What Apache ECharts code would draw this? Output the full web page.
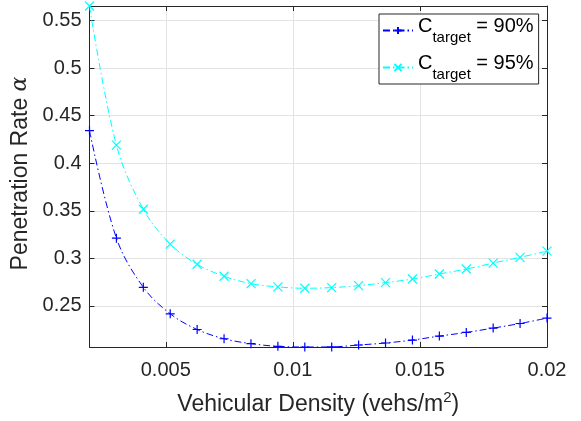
<!DOCTYPE html>
<html><head><meta charset="utf-8">
<script src="https://cdn.jsdelivr.net/npm/echarts@6/dist/echarts.min.js"></script>
<style>html,body{margin:0;padding:0;background:#fff}#c{width:581px;height:421px}</style>
</head><body><div id="c"></div>
<script>
const density = [0.002, 0.003059, 0.004118, 0.005176, 0.006235, 0.007294, 0.008353, 0.009412, 0.010471, 0.011529, 0.012588, 0.013647, 0.014706, 0.015765, 0.016824, 0.017882, 0.018941, 0.02];
const rate90 = [0.4344, 0.3212, 0.2695, 0.2416, 0.2251, 0.2154, 0.2102, 0.2074, 0.2067, 0.2068, 0.2088, 0.2109, 0.2140, 0.2182, 0.2220, 0.2266, 0.2314, 0.2371];
const rate95 = [0.5654, 0.4190, 0.3516, 0.3149, 0.2937, 0.2811, 0.2733, 0.2699, 0.2685, 0.2692, 0.2712, 0.2744, 0.2782, 0.2835, 0.2887, 0.2950, 0.3010, 0.3076];
const xTicks = [0.005, 0.01, 0.015, 0.02];
const yTicks = [0.25, 0.3, 0.35, 0.4, 0.45, 0.5, 0.55];
const seriesNames = ['C90', 'C95'];

const AX = '#262626';
const FONT = 'Liberation Sans, Arial, sans-serif';
const plus = 'path://M0,-1L0,1M-1,0L1,0';
const cross = 'path://M-1,-1L1,1M-1,1L1,-1';
const dashDot = [7, 3, 1.5, 3];

const chart = echarts.init(document.getElementById('c'));
const xMin = 0.002, xMax = 0.02, yMin = 0.2067, yMax = 0.5654;
function mkX(idx, show) {
  return {
    type: 'value', min: xMin, max: xMax, position: idx ? 'top' : 'bottom',
    axisLine: {show: true, lineStyle: {color: AX, width: 1}},
    axisTick: {show: true, inside: true, length: 5, customValues: xTicks, lineStyle: {color: AX}},
    axisLabel: {show: show, customValues: xTicks, color: AX, fontSize: 20, fontFamily: FONT, margin: 13,
      formatter: v => String(+v.toFixed(4))},
    splitLine: {show: !idx, customValues: xTicks, lineStyle: {color: '#e3e3e3', width: 1}},
    name: show ? '{t|Vehicular Density (vehs/m}{s|2}{t|)}' : '',
    nameLocation: 'middle', nameGap: 43,
    nameTextStyle: {rich: {t: {fontSize: 23, color: AX, fontFamily: FONT, lineHeight: 26, verticalAlign: 'bottom'},
      s: {fontSize: 15, color: AX, fontFamily: FONT, lineHeight: 26, verticalAlign: 'top', padding: [0, 0, 9, 0]}}}
  };
}
function mkY(idx, show) {
  return {
    type: 'value', min: yMin, max: yMax, position: idx ? 'right' : 'left',
    axisLine: {show: true, lineStyle: {color: AX, width: 1}},
    axisTick: {show: true, inside: true, length: 5, customValues: yTicks, lineStyle: {color: AX}},
    axisLabel: {show: show, customValues: yTicks, color: AX, fontSize: 20, fontFamily: FONT, margin: 8,
      formatter: v => String(+v.toFixed(3))},
    splitLine: {show: !idx, customValues: yTicks, lineStyle: {color: '#e3e3e3', width: 1}},
    name: show ? '{t|Penetration Rate }{a|α}' : '',
    nameLocation: 'middle', nameGap: 50, nameRotate: 90,
    nameTextStyle: {padding: [0, 0, 0, 6], rich: {t: {fontSize: 23, color: AX, fontFamily: FONT},
      a: {fontSize: 22, color: AX, fontFamily: 'DejaVu Serif, serif', fontStyle: 'italic'}}}
  };
}
function mkSeries(name, data, color, sym) {
  return {
    name: name, type: 'line', xAxisIndex: 0, yAxisIndex: 0,
    data: density.map((x, i) => [x, data[i]]),
    symbol: sym, symbolSize: 9, showSymbol: true,
    lineStyle: {color: color, width: 1, type: dashDot},
    itemStyle: {color: color, borderColor: color, borderWidth: 1.2},
    emphasis: {disabled: true}, animation: false, smooth: 0.35
  };
}
chart.setOption({
  animation: false,
  grid: {left: 89.5, right: 34, top: 6, bottom: 73, containLabel: false},
  xAxis: [mkX(0, true), mkX(1, false)],
  yAxis: [mkY(0, true), mkY(1, false)],
  legend: {
    orient: 'vertical', left: 379, top: 14, width: 160,
    padding: [2, 5, 2, 3], itemGap: 8, itemWidth: 30, itemHeight: 9,
    backgroundColor: '#fff', borderColor: AX, borderWidth: 1,
    data: seriesNames,
    formatter: n => n === 'C90' ? '{c|C}{s|target}{c| = 90%}' : '{c|C}{s|target}{c| = 95%}',
    textStyle: {rich: {
      c: {fontSize: 20, color: '#000', fontFamily: FONT, lineHeight: 29, verticalAlign: 'top'},
      s: {fontSize: 15, color: '#000', fontFamily: FONT, lineHeight: 29, verticalAlign: 'bottom'}
    }}
  },
  series: [mkSeries('C90', rate90, '#0000ff', plus), mkSeries('C95', rate95, '#00ffff', cross)]
});
</script></body></html>
